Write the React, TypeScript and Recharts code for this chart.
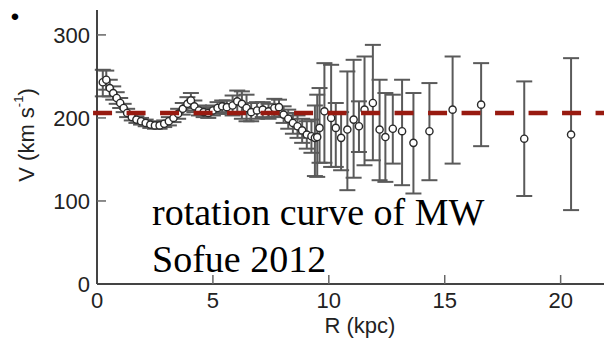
import React from 'react';
import {
  ScatterChart,
  Scatter,
  XAxis,
  YAxis,
  ErrorBar,
  ReferenceLine,
  Label,
} from 'recharts';

// galactocentric radius (kpc)
const radius = [
  0.25, 0.4, 0.55, 0.7, 0.85, 1.0, 1.15, 1.3, 1.5, 1.7, 1.9, 2.1, 2.3, 2.5, 2.7, 2.9,
  3.1, 3.3, 3.5, 3.7, 3.9, 4.05, 4.2, 4.4, 4.6, 4.8, 5.0, 5.2, 5.4, 5.6, 5.85, 6.05,
  6.25, 6.45, 6.65, 6.9, 7.15, 7.4, 7.65, 7.85, 8.05, 8.25, 8.45, 8.65, 8.85, 9.05,
  9.25, 9.4, 9.5, 9.6, 9.81, 10.1, 10.3, 10.53, 10.8, 11.07, 11.3, 11.54, 11.9, 12.19,
  12.44, 12.76, 13.16, 13.65, 14.34, 15.34, 16.57, 18.43, 20.45,
];
// rotation velocity (km/s)
const velocity = [
  243, 246, 236, 230, 224, 218, 212, 206, 201, 198, 196, 194, 192, 191, 191, 193,
  196, 200, 205, 211, 217, 221, 214, 209, 207, 206, 209, 212, 214, 213, 215, 220,
  217, 212, 207, 209, 210, 208, 212, 213, 204, 199, 194, 190, 185, 180,
  178, 176, 177, 188, 208, 200, 188, 176, 186, 198, 190, 210, 218, 186,
  177, 187, 184, 170, 184, 210, 216, 175, 180,
];
// lower / upper end of the error bars
const vLow = [
  226, 234, 226, 222, 217, 212, 207, 201, 197, 194, 192, 190, 188, 187, 187, 189,
  191, 195, 199, 204, 209, 212, 207, 203, 201, 200, 203, 205, 207, 205, 203, 205,
  199, 196, 196, 199, 201, 199, 201, 202, 194, 187, 181, 176, 170, 163,
  158, 130, 129, 146, 146, 141, 141, 137, 113, 128, 159, 143, 149, 125,
  123, 145, 119, 109, 125, 145, 166, 106, 89,
];
const vHigh = [
  258, 257, 246, 238, 231, 224, 217, 211, 205, 202, 200, 198, 196, 195, 195, 197,
  201, 205, 211, 218, 225, 230, 221, 215, 213, 212, 215, 219, 221, 221, 227, 233,
  232, 228, 218, 219, 219, 217, 223, 222, 214, 210, 206, 203, 199, 196,
  198, 215, 228, 236, 266, 264, 218, 207, 256, 270, 220, 274, 288, 246,
  230, 228, 246, 230, 242, 274, 266, 244, 272,
];

const FLAT_V = 206;
const X_TICKS = [0, 5, 10, 15, 20];
const Y_TICKS = [0, 100, 200, 300];

const rows = radius.map((r, i) => ({
  r,
  v: velocity[i],
  err: [velocity[i] - vLow[i], vHigh[i] - velocity[i]],
}));

const SANS = '"Liberation Sans", Arial, Helvetica, sans-serif';
const SERIF = '"Liberation Serif", "Times New Roman", serif';
const AXIS = '#444';

const LeftTick = (props: any) => {
  const { x, y, payload } = props;
  return (
    <g>
      {payload.value !== 0 && (
        <line x1={x + 7} x2={x + 16} y1={y} y2={y} stroke="#666" strokeWidth={1.5} />
      )}
      <text x={x} y={y} dy="0.36em" textAnchor="end" fontSize={22} fontFamily={SANS} fill="#222">
        {payload.value}
      </text>
    </g>
  );
};

const RightTick = (props: any) => {
  const { x, y, payload } = props;
  if (payload.value === 0) return <g />;
  return <line x1={x - 9} x2={x} y1={y} y2={y} stroke="#666" strokeWidth={1.5} />;
};

const BottomTick = (props: any) => {
  const { x, y, payload } = props;
  return (
    <g>
      {payload.value !== 0 && (
        <line x1={x} x2={x} y1={y - 9} y2={y} stroke="#666" strokeWidth={1.5} />
      )}
      <text x={x} y={y + 24} textAnchor="middle" fontSize={22} fontFamily={SANS} fill="#222">
        {payload.value}
      </text>
    </g>
  );
};

const YTitle = (props: any) => {
  const { viewBox } = props;
  const cx = viewBox.x + 18;
  const cy = viewBox.y + viewBox.height / 2 - 12;
  return (
    <text
      x={cx}
      y={cy}
      transform={`rotate(-90 ${cx} ${cy})`}
      textAnchor="middle"
      dominantBaseline="central"
      fontSize={22}
      fontFamily={SANS}
      fill="#222"
    >
      V (km s
      <tspan fontSize={13} dy={-8}>-1</tspan>
      <tspan dy={8}>)</tspan>
    </text>
  );
};

const XTitle = (props: any) => {
  const { viewBox } = props;
  return (
    <text
      x={viewBox.x + viewBox.width / 2 + 8}
      y={viewBox.y + 49}
      textAnchor="middle"
      fontSize={22}
      fontFamily={SANS}
      fill="#222"
    >
      R (kpc)
    </text>
  );
};

const Dot = (props: any) => (
  <circle cx={props.cx} cy={props.cy} r={3.6} fill="#fff" stroke="#2a2a2a" strokeWidth={1.4} />
);

export default function App() {
  return (
    <div
      style={{
        position: 'fixed',
        left: 0,
        top: 0,
        width: 604,
        height: 341,
        overflow: 'hidden',
        background: '#fff',
      }}
    >
      <ScatterChart width={620} height={341} margin={{ top: 10, right: 0, left: 8, bottom: 0 }}>
        <XAxis
          type="number"
          dataKey="r"
          domain={[0, 22]}
          ticks={X_TICKS}
          interval={0}
          height={57}
          tickSize={0}
          tickMargin={0}
          tick={<BottomTick />}
          tickLine={false}
          axisLine={{ stroke: AXIS, strokeWidth: 2 }}
        >
          <Label content={<XTitle />} />
        </XAxis>
        <XAxis
          xAxisId="top"
          orientation="top"
          type="number"
          domain={[0, 22]}
          height={0}
          tick={false}
          tickLine={false}
          axisLine={{ stroke: AXIS, strokeWidth: 2 }}
        />
        <YAxis
          yAxisId="left"
          type="number"
          dataKey="v"
          domain={[0, 330]}
          ticks={Y_TICKS}
          interval={0}
          width={89}
          tickSize={0}
          tickMargin={7}
          tick={<LeftTick />}
          tickLine={false}
          axisLine={{ stroke: AXIS, strokeWidth: 2 }}
          allowDataOverflow
        >
          <Label content={<YTitle />} />
        </YAxis>
        <YAxis
          yAxisId="right"
          orientation="right"
          type="number"
          domain={[0, 330]}
          ticks={Y_TICKS}
          interval={0}
          width={13}
          tickSize={0}
          tickMargin={0}
          tick={<RightTick />}
          tickLine={false}
          axisLine={{ stroke: AXIS, strokeWidth: 2 }}
        />
        <Scatter
          data={rows}
          yAxisId="left"
          shape={<Dot />}
          isAnimationActive={false}
        >
          <ErrorBar
            dataKey="err"
            direction="y"
            width={8}
            stroke="#5a5a5a"
            strokeWidth={2}
            isAnimationActive={false}
          />
        </Scatter>
        <ReferenceLine
          yAxisId="left"
          segment={[
            { x: -0.17, y: FLAT_V },
            { x: 22, y: FLAT_V },
          ]}
          ifOverflow="visible"
          stroke="#981a10"
          strokeWidth={4.5}
          strokeDasharray="19 14.5"
          zIndex={1000}
        />
      </ScatterChart>
      <svg
        width={604}
        height={341}
        style={{ position: 'absolute', left: 0, top: 0, pointerEvents: 'none' }}
      >
        <text x={15} y={25} textAnchor="middle" fontSize={24} fontFamily={SANS} fill="#000">
          •
        </text>
        <text x={152} y={225} fontSize={38} fontFamily={SERIF} fill="#000">
          rotation curve of MW
        </text>
        <text x={152} y={272} fontSize={38} fontFamily={SERIF} fill="#000">
          Sofue 2012
        </text>
      </svg>
    </div>
  );
}
